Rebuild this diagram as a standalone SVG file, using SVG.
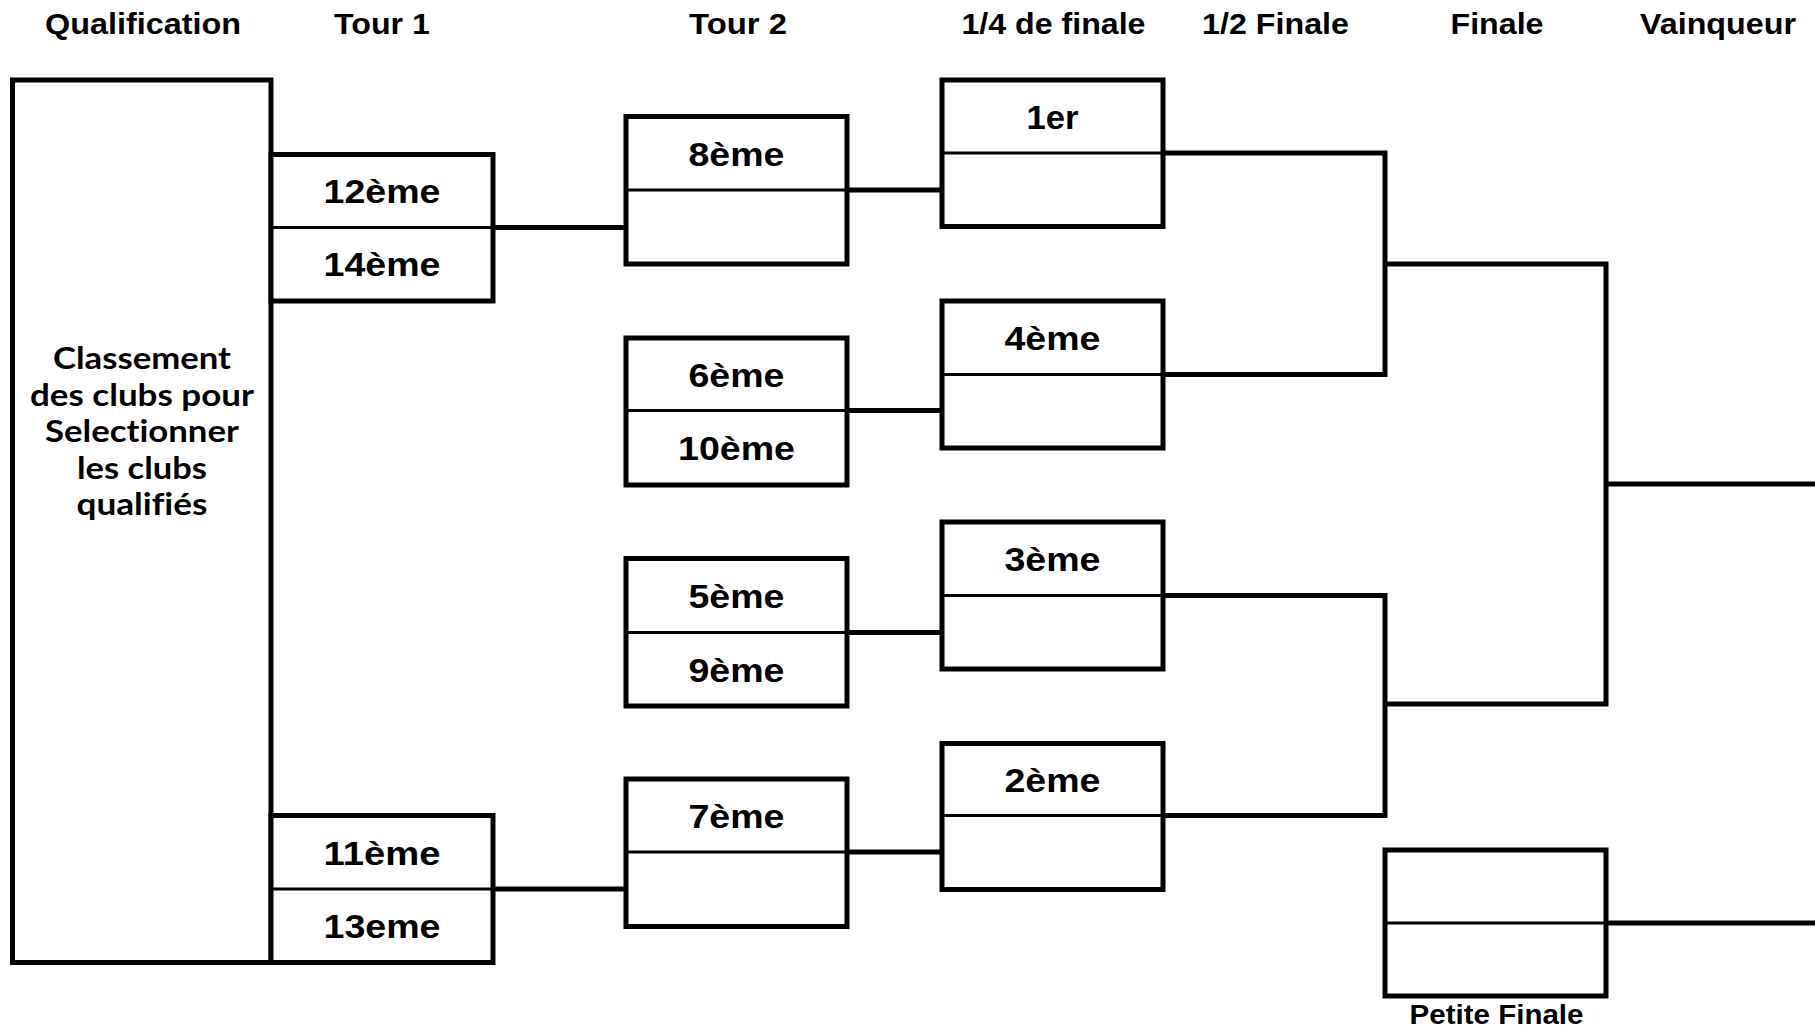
<svg xmlns="http://www.w3.org/2000/svg" width="1815" height="1027" viewBox="0 0 1815 1027">
<style>
.box{fill:#fff;stroke:#000;stroke-width:5}
.div{stroke:#000;stroke-width:3}
.con{fill:none;stroke:#000;stroke-width:5}
.hd{font-family:"Liberation Sans",Arial,sans-serif;font-weight:bold;font-size:30px;text-anchor:middle;fill:#000}
.lb{font-family:"Liberation Sans",Arial,sans-serif;font-weight:bold;font-size:33px;text-anchor:middle;fill:#000}
.q{font-family:Lato,"Open Sans",sans-serif;font-weight:bold;font-size:30px;text-anchor:middle;fill:#000;font-variant-ligatures:none;font-feature-settings:"liga" 0,"dlig" 0}
.pf{font-family:"Liberation Sans",Arial,sans-serif;font-weight:bold;font-size:27px;text-anchor:middle;fill:#000}
</style>
<rect width="1815" height="1027" fill="#fff"/>
<g id="headers">
<text class="hd" x="143" y="34" textLength="196" lengthAdjust="spacingAndGlyphs">Qualification</text>
<text class="hd" x="382" y="34" textLength="96" lengthAdjust="spacingAndGlyphs">Tour 1</text>
<text class="hd" x="738" y="34" textLength="98" lengthAdjust="spacingAndGlyphs">Tour 2</text>
<text class="hd" x="1053.5" y="34" textLength="184" lengthAdjust="spacingAndGlyphs">1/4 de finale</text>
<text class="hd" x="1275.5" y="34" textLength="147" lengthAdjust="spacingAndGlyphs">1/2 Finale</text>
<text class="hd" x="1497" y="34" textLength="93" lengthAdjust="spacingAndGlyphs">Finale</text>
<text class="hd" x="1718" y="34" textLength="156" lengthAdjust="spacingAndGlyphs">Vainqueur</text>
</g>
<g id="connectors">
<path class="con" d="M493,227.5 H626 M493,889 H626"/>
<path class="con" d="M847,190 H942 M847,410.5 H942 M847,632.5 H942 M847,852 H942"/>
<path class="con" d="M1163,153 H1385 V374.5 H1163 M1163,595.5 H1385 V815.5 H1163"/>
<path class="con" d="M1385,264 H1606 V704 H1385 M1606,484 H1815"/>
<path class="con" d="M1606,923 H1815"/>
</g>
<g id="qualification">
<rect class="box" x="12.5" y="80" width="258.5" height="882.5"/>
<text class="q" x="142" y="369" textLength="178" lengthAdjust="spacingAndGlyphs">Classement</text>
<text class="q" x="142" y="405.5" textLength="224" lengthAdjust="spacingAndGlyphs">des clubs pour</text>
<text class="q" x="142" y="442" textLength="194" lengthAdjust="spacingAndGlyphs">Selectionner</text>
<text class="q" x="142" y="478.5" textLength="130" lengthAdjust="spacingAndGlyphs">les clubs</text>
<text class="q" x="142" y="515" textLength="131" lengthAdjust="spacingAndGlyphs">qualifiés</text>
</g>
<g id="t1a">
<rect class="box" x="271" y="154.5" width="222" height="146.5"/>
<line class="div" x1="271" y1="227.5" x2="493" y2="227.5"/>
<text class="lb" x="382" y="203" textLength="117" lengthAdjust="spacingAndGlyphs">12ème</text>
<text class="lb" x="382" y="276" textLength="117" lengthAdjust="spacingAndGlyphs">14ème</text>
</g>
<g id="t1b">
<rect class="box" x="271" y="815.5" width="222" height="147"/>
<line class="div" x1="271" y1="889" x2="493" y2="889"/>
<text class="lb" x="382" y="864.5" textLength="117" lengthAdjust="spacingAndGlyphs">11ème</text>
<text class="lb" x="382" y="937.5" textLength="117" lengthAdjust="spacingAndGlyphs">13eme</text>
</g>
<g id="t2a">
<rect class="box" x="626" y="116.5" width="221" height="147.5"/>
<line class="div" x1="626" y1="190" x2="847" y2="190"/>
<text class="lb" x="736.5" y="165.5" textLength="96" lengthAdjust="spacingAndGlyphs">8ème</text>
</g>
<g id="t2b">
<rect class="box" x="626" y="338" width="221" height="147"/>
<line class="div" x1="626" y1="410.5" x2="847" y2="410.5"/>
<text class="lb" x="736.5" y="386.5" textLength="96" lengthAdjust="spacingAndGlyphs">6ème</text>
<text class="lb" x="736.5" y="459.5" textLength="117" lengthAdjust="spacingAndGlyphs">10ème</text>
</g>
<g id="t2c">
<rect class="box" x="626" y="558.5" width="221" height="147.5"/>
<line class="div" x1="626" y1="632.5" x2="847" y2="632.5"/>
<text class="lb" x="736.5" y="607.5" textLength="96" lengthAdjust="spacingAndGlyphs">5ème</text>
<text class="lb" x="736.5" y="681.5" textLength="96" lengthAdjust="spacingAndGlyphs">9ème</text>
</g>
<g id="t2d">
<rect class="box" x="626" y="779" width="221" height="147.5"/>
<line class="div" x1="626" y1="852" x2="847" y2="852"/>
<text class="lb" x="736.5" y="827.5" textLength="96" lengthAdjust="spacingAndGlyphs">7ème</text>
</g>
<g id="q1">
<rect class="box" x="942" y="80" width="221" height="146.5"/>
<line class="div" x1="942" y1="153" x2="1163" y2="153"/>
<text class="lb" x="1052.5" y="128.5" textLength="52" lengthAdjust="spacingAndGlyphs">1er</text>
</g>
<g id="q2">
<rect class="box" x="942" y="301" width="221" height="147"/>
<line class="div" x1="942" y1="374.5" x2="1163" y2="374.5"/>
<text class="lb" x="1052.5" y="350" textLength="96" lengthAdjust="spacingAndGlyphs">4ème</text>
</g>
<g id="q3">
<rect class="box" x="942" y="522" width="221" height="147"/>
<line class="div" x1="942" y1="595.5" x2="1163" y2="595.5"/>
<text class="lb" x="1052.5" y="571" textLength="96" lengthAdjust="spacingAndGlyphs">3ème</text>
</g>
<g id="q4">
<rect class="box" x="942" y="743.5" width="221" height="146"/>
<line class="div" x1="942" y1="815.5" x2="1163" y2="815.5"/>
<text class="lb" x="1052.5" y="791.5" textLength="96" lengthAdjust="spacingAndGlyphs">2ème</text>
</g>
<g id="petite-finale">
<rect class="box" x="1385" y="850" width="221" height="146"/>
<line class="div" x1="1385" y1="923" x2="1606" y2="923"/>
<text class="pf" x="1496.5" y="1024" textLength="174" lengthAdjust="spacingAndGlyphs">Petite Finale</text>
</g>
</svg>
